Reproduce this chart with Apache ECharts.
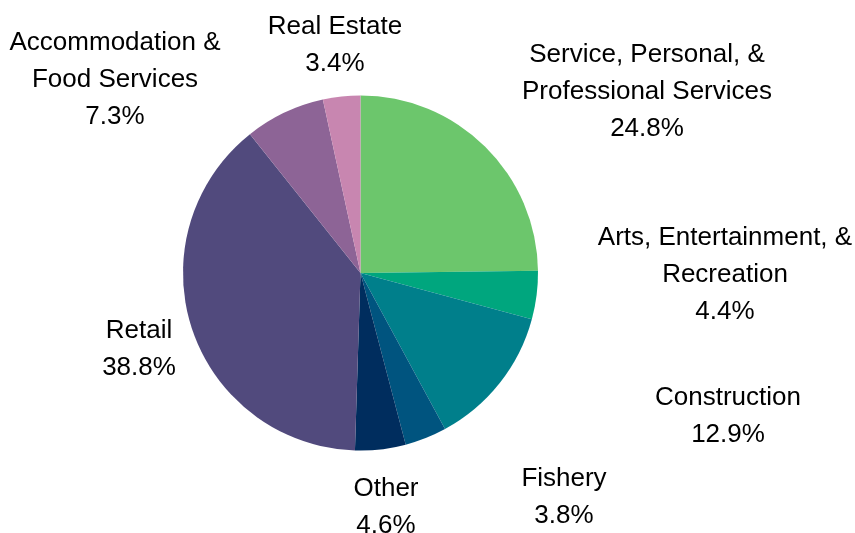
<!DOCTYPE html>
<html>
<head>
<meta charset="utf-8">
<script src="https://cdn.jsdelivr.net/npm/echarts@6/dist/echarts.min.js"></script>
<style>html,body{margin:0;padding:0;background:#fff}#c{width:855px;height:533px}</style>
</head>
<body>
<div id="c"></div>
<script>
var categories = [
  'Service, Personal, &\nProfessional Services',
  'Arts, Entertainment, &\nRecreation',
  'Construction',
  'Fishery',
  'Other',
  'Retail',
  'Accommodation &\nFood Services',
  'Real Estate'
];
var values = [24.8, 4.4, 12.9, 3.8, 4.6, 38.8, 7.3, 3.4];
var colors = ['#6CC66C', '#00A67E', '#007F8B', '#00547F', '#002D5E', '#514A7D', '#8D6496', '#C886B0'];
// label block centres (layout/style only)
var labelPos = [
  [647, 92], [725, 275], [728, 416], [564, 497],
  [386, 507], [139, 349], [115, 80], [335, 45]
];

var chart = echarts.init(document.getElementById('c'));
chart.setOption({
  animation: false,
  series: [{
    type: 'pie',
    center: [360.5, 273],
    radius: 177.5,
    startAngle: 90,
    clockwise: true,
    avoidLabelOverlap: false,
    data: categories.map(function (n, i) {
      return { name: n, value: values[i], itemStyle: { color: colors[i] } };
    }),
    itemStyle: { borderWidth: 0 },
    label: {
      show: true,
      position: 'outside',
      formatter: function (p) { return p.name + '\n' + p.value.toFixed(1) + '%'; },
      fontFamily: 'Liberation Sans, Arial, sans-serif',
      fontSize: 26,
      lineHeight: 37,
      color: '#000',
      align: 'center'
    },
    labelLine: { show: false },
    labelLayout: function (params) {
      var p = labelPos[params.dataIndex];
      return { x: p[0], y: p[1], align: 'center', verticalAlign: 'middle' };
    },
    emphasis: { disabled: true }
  }]
});
</script>
</body>
</html>
